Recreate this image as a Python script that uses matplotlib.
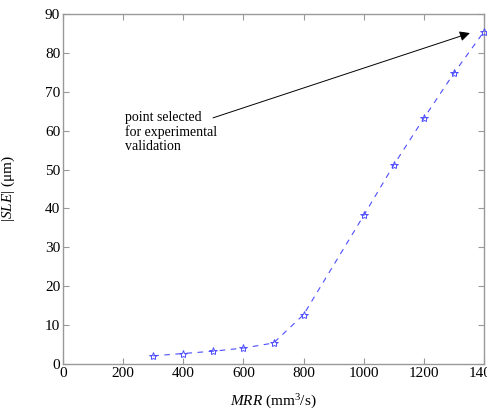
import numpy as np
from matplotlib import pyplot as plt

plt.rcParams['font.family'] = ['Liberation Serif', 'DejaVu Serif']
plt.rcParams['mathtext.fontset'] = 'custom'
plt.rcParams['mathtext.rm'] = 'Liberation Serif'
plt.rcParams['mathtext.it'] = 'Liberation Serif:italic'

mrr = [300, 400, 500, 600, 700, 800, 1000, 1100, 1200, 1300, 1400]
sle = [2.1, 2.7, 3.3, 4.1, 5.4, 12.7, 38.2, 51.2, 63.2, 74.8, 85.5]

AXIS_GRAY = '#999999'
LINE_BLUE = '#4d4dff'

fig = plt.figure(figsize=(4.87, 4.12), dpi=100)
ax = fig.add_axes([0.1294, 0.1165, 0.8645, 0.8495])

ax.plot(mrr, sle, linestyle='--', color=LINE_BLUE, linewidth=0.8, dashes=(5, 5),
        marker='*', markersize=6, markerfacecolor='none', markeredgecolor=LINE_BLUE,
        markeredgewidth=0.7, clip_on=False, zorder=3)

# note and arrow pointing at the last point
ax.text(206, 59.7, 'point selected\nfor experimental\nvalidation',
        ha='left', va='center', fontsize=10, linespacing=1.1)
ax.annotate('', xy=(1353, 85.1), xytext=(499, 63.3),
            arrowprops=dict(arrowstyle='-|>', color='black', lw=0.7,
                            mutation_scale=15, shrinkA=0, shrinkB=0))

ax.set_xlim(0, 1400)
ax.set_ylim(0, 90)
ax.set_xticks(np.arange(0, 1401, 200))
ax.set_yticks(np.arange(0, 91, 10))

for side in ax.spines.values():
    side.set_color(AXIS_GRAY)
    side.set_linewidth(1.0)
ax.tick_params(direction='in', color=AXIS_GRAY, length=4, labelsize=11,
               top=True, right=True, pad=2)

ax.set_xlabel(r'$\mathit{MRR}$ (mm$^3$/s)', fontsize=11, labelpad=9)
ax.set_ylabel(r'|$\mathit{SLE}$| (μm)', fontsize=11, labelpad=20)

fig.savefig('out.png', dpi=100)
